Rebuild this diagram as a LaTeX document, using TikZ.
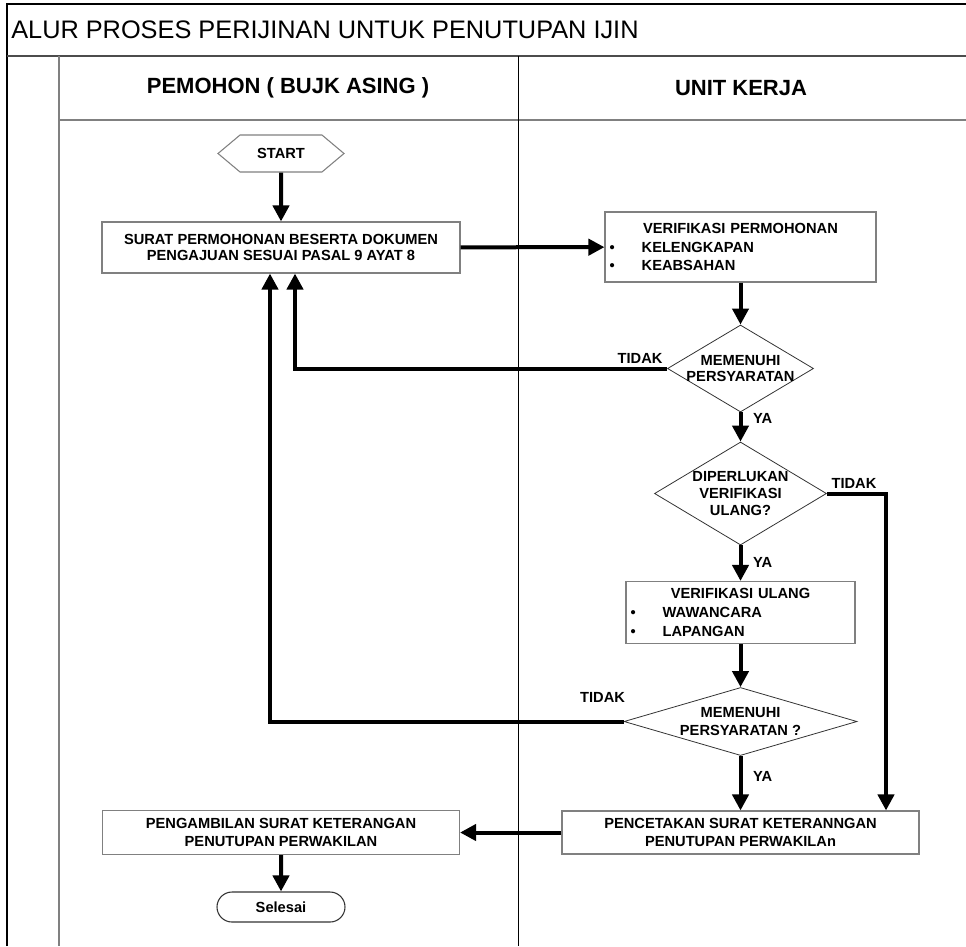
\documentclass[tikz,border=0pt]{standalone}
\usepackage{fontspec}
\setmainfont{Liberation Sans}
\usetikzlibrary{arrows.meta,shapes.geometric,shapes.symbols,shapes.misc}

\begin{document}
\begin{tikzpicture}[x=0.75pt,y=-0.75pt,
    box/.style={draw=gray,line width=0.8pt,inner sep=0pt,align=center,
        font=\bfseries\fontsize{11}{13.5}\selectfont},
    listbox/.style={box,align=left,inner xsep=3.5pt,
        font=\bfseries\fontsize{11}{14}\selectfont},
    dia/.style={draw=black!80,line width=0.6pt,shape=diamond,inner sep=0pt},
    dtext/.style={align=center,inner sep=0pt,
        font=\bfseries\fontsize{11}{13}\selectfont},
    lbl/.style={inner sep=2pt,font=\bfseries\fontsize{11}{12}\selectfont},
    flow/.style={line width=3pt,-{Triangle[length=12pt,width=12pt]}}]
    \useasboundingbox (0,0) rectangle (966,946);
    %draw frame
    \draw[line width=1.5pt] (7,946) -- (7,4) -- (966,4);
    \draw[black!70,line width=1.5pt] (7,56) -- (966,56);
    \draw[gray,line width=1pt] (59,56) -- (59,946);
    \draw[gray,line width=1pt] (59,120) -- (966,120);
    \draw[line width=0.75pt] (518,56) -- (518,946);
    \node[anchor=west,inner sep=0pt,font=\fontsize{19}{21}\selectfont] (judul) at (11,30)
        {ALUR PROSES PERIJINAN UNTUK PENUTUPAN IJIN};
    \node[font=\bfseries\fontsize{16.5}{18}\selectfont] (pemohon) at (288,88) {PEMOHON ( BUJK ASING )};
    \node[font=\bfseries\fontsize{16.5}{18}\selectfont] (unit) at (741,88) {UNIT KERJA};
    %draw nodes
    \node[box,shape=signal,signal to=east and west,signal pointer angle=80,
        minimum width=94.5pt,minimum height=27.75pt] (start) at (281,153.5) {START};
    \node[box,minimum width=268.5pt,minimum height=38.25pt,
        font=\bfseries\fontsize{11}{12.5}\selectfont] (surat) at (281,247.5)
        {SURAT PERMOHONAN BESERTA DOKUMEN\\PENGAJUAN SESUAI PASAL 9 AYAT 8};
    \node[listbox,text width=196.25pt,minimum height=52.5pt] (verif) at (740.5,247)
        {\makebox[\hsize]{VERIFIKASI PERMOHONAN}\\
         \makebox[24pt][l]{\textbullet}KELENGKAPAN\\
         \makebox[24pt][l]{\textbullet}KEABSAHAN};
    \node[dia,minimum width=109.5pt,minimum height=65.25pt,
        label={[dtext,font=\bfseries\fontsize{11}{11.5}\selectfont]center:MEMENUHI\\PERSYARATAN}]
        (dia1) at (740.5,368.5) {};
    \node[dia,minimum width=129pt,minimum height=77.25pt,
        label={[dtext]center:DIPERLUKAN\\VERIFIKASI\\ULANG?}] (dia2) at (740.5,493.5) {};
    \node[listbox,text width=164.75pt,minimum height=46.5pt] (ulang) at (740.5,612.5)
        {\makebox[\hsize]{VERIFIKASI ULANG}\\
         \makebox[24pt][l]{\textbullet}WAWANCARA\\
         \makebox[24pt][l]{\textbullet}LAPANGAN};
    \node[dia,minimum width=174.75pt,minimum height=51pt,
        label={[dtext]center:MEMENUHI\\PERSYARATAN ?}] (dia3) at (740.5,721.5) {};
    \node[box,minimum width=267.75pt,minimum height=32.25pt] (cetak) at (740.5,832.5)
        {PENCETAKAN SURAT KETERANNGAN\\PENUTUPAN PERWAKILAn};
    \node[box,minimum width=267.75pt,minimum height=33pt] (ambil) at (281,832.5)
        {PENGAMBILAN SURAT KETERANGAN\\PENUTUPAN PERWAKILAN};
    \node[box,draw=black!80,shape=rounded rectangle,minimum width=96pt,minimum height=22.5pt]
        (selesai) at (281,907) {Selesai};
    %draw arrows
    \draw[flow] (start) -- (surat);
    \draw[flow] (surat) -- (verif);
    \draw[flow] (verif) -- (dia1);
    \draw[flow] (dia1) -- node[lbl,right,pos=0.2,xshift=6pt] {YA} (dia2);
    \draw[flow] (dia2) -- node[lbl,right,pos=0.49,xshift=6pt] {YA} (ulang);
    \draw[flow] (ulang) -- (dia3);
    \draw[flow] (dia3) -- node[lbl,right,pos=0.38,xshift=6pt] {YA} (cetak);
    \draw[flow] (cetak) -- (ambil);
    \draw[flow] (ambil) -- (selesai);
    \draw[flow] (dia1.west) node[lbl,above left] {TIDAK} -| ([xshift=10.5pt]surat.south);
    \draw[flow] (dia3.west) node[lbl,above left,xshift=4.5pt,yshift=11pt] {TIDAK}
        -| ([xshift=-8.25pt]surat.south);
    \draw[flow] (dia2.east) node[lbl,above right] {TIDAK} -| ([xshift=109.125pt]cetak.north);
\end{tikzpicture}
\end{document}
